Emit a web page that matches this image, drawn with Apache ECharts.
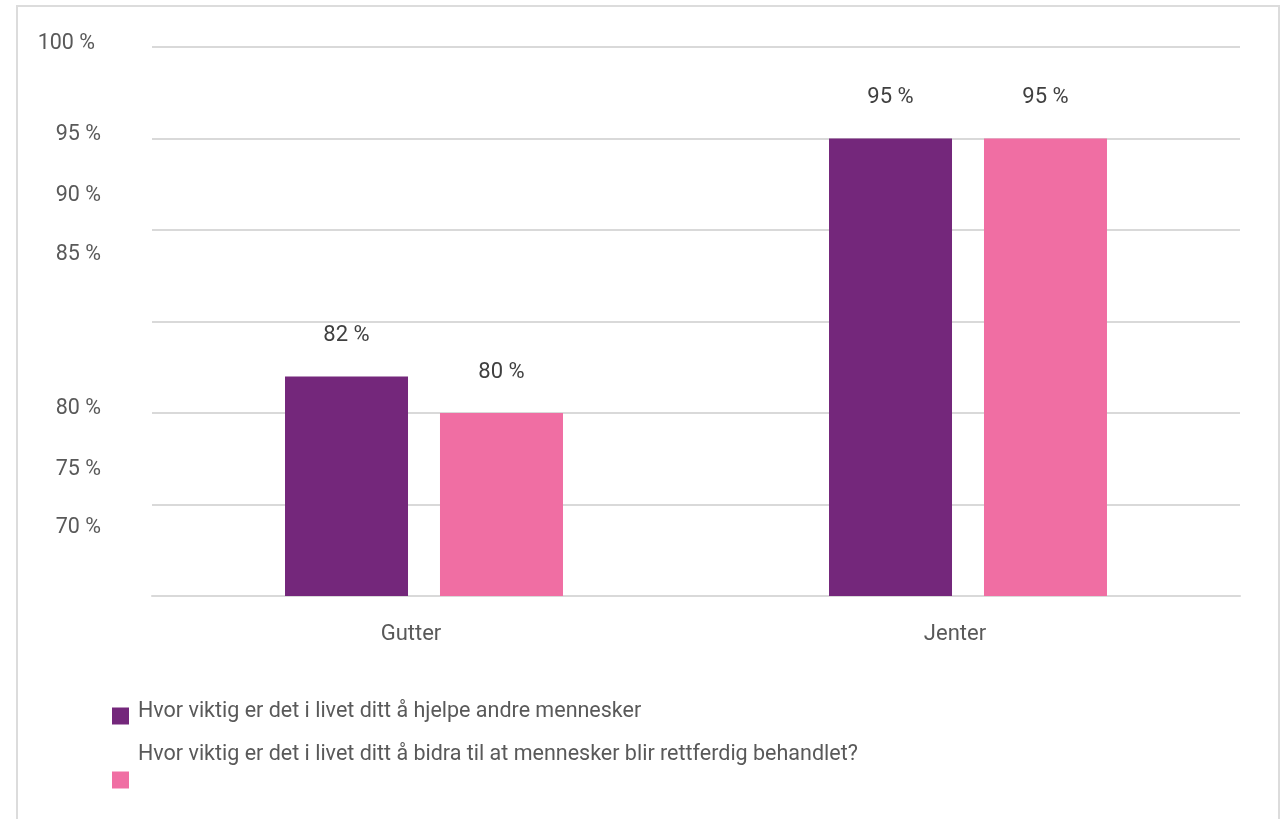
<!DOCTYPE html>
<html>
<head>
<meta charset="utf-8">
<script src="https://cdn.jsdelivr.net/npm/echarts@6/dist/echarts.min.js"></script>
<style>
  html, body { margin: 0; padding: 0; background: #fff; }
  #chart { position: absolute; left: 0; top: 0; width: 1281px; height: 819px; }
  #frame { position: absolute; left: 16px; top: 5px; width: 1260px; height: 830px;
           border: 2px solid #dcdcdc; pointer-events: none; }
</style>
</head>
<body>
<div id="chart"></div>
<div id="frame"></div>
<script>
// Share answering "very/quite important", by gender
const categories = ['Gutter', 'Jenter'];
const seriesNames = [
  'Hvor viktig er det i livet ditt å hjelpe andre mennesker',
  'Hvor viktig er det i livet ditt å bidra til at mennesker blir rettferdig behandlet?'
];
const helpOthers = [82, 95];
const fairTreatment = [80, 95];
const yTickLabels = { 70: '70 %', 75: '75 %', 80: '80 %', 85: '85 %', 90: '90 %', 95: '95 %', 100: '100 %' };

// Vertical nudges (px, upward) of the y tick labels
const yLabelLift = { 70: 68, 75: 35, 80: 4, 85: 67, 90: 34, 95: 4, 100: 3 };

const FONT = 'Roboto';
const COLORS = ['#74277b', '#f06ea3'];

const rich = {};
Object.keys(yLabelLift).forEach(function (v) {
  rich['v' + v] = {
    fontFamily: FONT, fontSize: 21.5, color: '#595959',
    padding: [0, v === '100' ? 6 : 0, yLabelLift[v] * 2, 0]
  };
});

const chart = echarts.init(document.getElementById('chart'), null, { renderer: 'canvas' });

const barLabel = {
  show: true, position: 'top', distance: 30,
  formatter: function (p) { return p.value + ' %'; },
  fontFamily: FONT, fontSize: 22, color: '#404040'
};

chart.setOption({
  animation: false,
  textStyle: { fontFamily: FONT },
  grid: { left: 152, right: 41, top: 47, bottom: 223, containLabel: false },
  xAxis: {
    type: 'category',
    data: categories,
    axisLine: { lineStyle: { color: '#d9d9d9', width: 2 } },
    axisTick: { show: false },
    axisLabel: { fontFamily: FONT, fontSize: 22, color: '#595959', margin: 27, padding: [0, 26, 0, 0] }
  },
  yAxis: {
    type: 'value',
    min: 70, max: 100, interval: 5,
    axisLine: { show: false },
    axisTick: { show: false },
    splitLine: { lineStyle: { color: '#d9d9d9', width: 2 } },
    axisLabel: {
      margin: 51,
      formatter: function (v) { return '{v' + v + '|' + yTickLabels[v] + '}'; },
      rich: rich
    }
  },
  legend: [
    {
      data: [seriesNames[0]],
      left: 112, top: 701, padding: 0,
      itemWidth: 17, itemHeight: 17, itemGap: 0,
      icon: 'rect',
      formatter: function (n) { return '{t|' + n + '}'; },
      textStyle: { rich: { t: { fontFamily: FONT, fontSize: 21.5, color: '#595959', padding: [0, 0, 8, 4] } } }
    },
    {
      data: [seriesNames[1]],
      left: 112, top: 744, padding: 0,
      itemWidth: 17, itemHeight: 17, itemGap: 0,
      icon: 'rect',
      formatter: function (n) { return '{t|' + n + '}'; },
      textStyle: { rich: { t: { fontFamily: FONT, fontSize: 21.5, color: '#595959', padding: [0, 0, 50, 4] } } }
    }
  ],
  series: [
    {
      name: seriesNames[0], type: 'bar', data: helpOthers,
      barWidth: 123, barGap: '26%',
      itemStyle: { color: COLORS[0] },
      label: barLabel
    },
    {
      name: seriesNames[1], type: 'bar', data: fairTreatment,
      barWidth: 123,
      itemStyle: { color: COLORS[1] },
      label: barLabel
    }
  ]
});
</script>
</body>
</html>
